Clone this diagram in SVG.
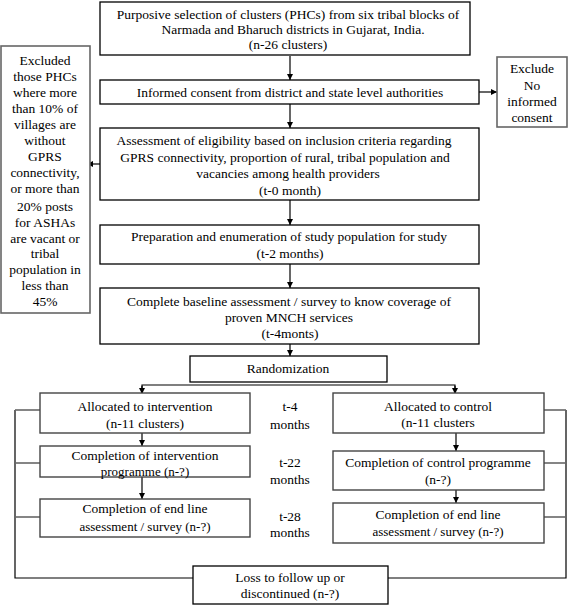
<svg xmlns="http://www.w3.org/2000/svg" width="568" height="608" viewBox="0 0 568 608" font-family="'Liberation Serif', 'Times New Roman', Times, 'DejaVu Serif', serif">
<defs>
<marker id="ah" viewBox="0 0 8 8" refX="8" refY="4" markerWidth="6" markerHeight="6" markerUnits="userSpaceOnUse" orient="auto">
<path d="M0,0 L8,4 L0,8 z" fill="#000"/>
</marker>
<style>
.b{fill:#fff;stroke:#000;stroke-width:1.3}
.g{fill:#fff;stroke:#666;stroke-width:1.6}
.m{fill:#fff;stroke:#444;stroke-width:1.4}
text{font-family:'Liberation Serif','Times New Roman',Times,'DejaVu Serif',serif;font-size:13.5px;fill:#000;text-anchor:middle}
.s{font-size:13px}
.c{fill:none;stroke:#000;stroke-width:1.2}
.cg{fill:none;stroke:#666;stroke-width:1.6}
</style>
</defs>
<rect width="568" height="608" fill="#fff"/>
<g id="connectors">
<line class="c" x1="290" y1="56" x2="290" y2="80" marker-end="url(#ah)"/>
<line class="c" x1="290" y1="104" x2="290" y2="128" marker-end="url(#ah)"/>
<line class="c" x1="479" y1="92" x2="497" y2="92" marker-end="url(#ah)"/>
<line class="c" x1="100" y1="164" x2="87" y2="164" marker-end="url(#ah)"/>
<line class="c" x1="290" y1="200" x2="290" y2="225" marker-end="url(#ah)"/>
<line class="c" x1="290" y1="264" x2="290" y2="288" marker-end="url(#ah)"/>
<line class="c" x1="290" y1="344" x2="290" y2="356" marker-end="url(#ah)"/>
<polyline class="c" points="142,394 142,385 455,385 455,394"/>
<line class="c" x1="142" y1="386" x2="142" y2="394" marker-end="url(#ah)"/>
<line class="c" x1="455" y1="386" x2="455" y2="394" marker-end="url(#ah)"/>
<line class="c" x1="142" y1="433" x2="142" y2="446" marker-end="url(#ah)"/>
<line class="c" x1="142" y1="477" x2="142" y2="499" marker-end="url(#ah)"/>
<line class="c" x1="456" y1="433" x2="456" y2="451" marker-end="url(#ah)"/>
<line class="c" x1="456" y1="490" x2="456" y2="503" marker-end="url(#ah)"/>
<polyline class="c" points="15,410 15,578 193,578"/>
<line class="cg" x1="15" y1="410" x2="40" y2="410"/>
<line class="cg" x1="15" y1="463" x2="40" y2="463"/>
<line class="cg" x1="15" y1="517" x2="40" y2="517"/>
<polyline class="c" points="388,578 566,578 566,410"/>
<line class="cg" x1="544" y1="410" x2="566" y2="410"/>
<line class="cg" x1="544" y1="463" x2="566" y2="463"/>
<line class="cg" x1="544" y1="517" x2="566" y2="517"/>
</g>
<g id="n1"><rect class="b" x="100" y="2" width="370" height="53"/>
<text x="288" y="19">Purposive selection of clusters (PHCs) from six tribal blocks of</text>
<text x="293" y="34">Narmada and Bharuch districts in Gujarat, India.</text>
<text x="288" y="49">(n-26 clusters)</text></g>
<g id="n2"><rect class="b" x="100" y="80" width="379" height="24"/>
<text x="290" y="97">Informed consent from district and state level authorities</text></g>
<g id="n3"><rect class="g" x="497" y="57" width="70" height="70"/>
<text x="532" y="73">Exclude</text><text x="532" y="90">No</text><text x="532" y="106">informed</text><text x="532" y="122">consent</text></g>
<g id="n4"><rect class="b" x="100" y="128" width="379" height="72"/>
<text x="284" y="145">Assessment of eligibility based on inclusion criteria regarding</text>
<text x="285" y="162">GPRS connectivity, proportion of rural, tribal population and</text>
<text x="288" y="178">vacancies among health providers</text>
<text x="290" y="195">(t-0 month)</text></g>
<g id="n5"><rect class="g" x="1" y="46" width="89" height="267"/>
<text x="45" y="65">Excluded</text><text x="45" y="81">those PHCs</text><text x="45" y="97">where more</text><text x="45" y="113">than 10% of</text><text x="45" y="129">villages are</text><text x="45" y="145">without</text><text x="45" y="161">GPRS</text><text x="45" y="177">connectivity,</text><text x="45" y="193">or more than</text><text x="45" y="211">20% posts</text><text x="45" y="227">for ASHAs</text><text x="45" y="243">are vacant or</text><text x="45" y="258">tribal</text><text x="45" y="274">population in</text><text x="45" y="290">less than</text><text x="45" y="306">45%</text></g>
<g id="n6"><rect class="b" x="100" y="225" width="379" height="39"/>
<text x="289" y="241">Preparation and enumeration of study population for study</text>
<text x="290" y="258">(t-2 months)</text></g>
<g id="n7"><rect class="b" x="100" y="288" width="379" height="56"/>
<text x="289" y="306">Complete baseline assessment / survey to know coverage of</text>
<text x="289" y="322">proven MNCH services</text>
<text x="290" y="338">(t-4monts)</text></g>
<g id="n8"><rect class="b" x="190" y="356" width="197" height="26"/>
<text x="288" y="373">Randomization</text></g>
<g id="n9"><rect class="m" x="40" y="393" width="210" height="40"/>
<text x="145" y="411">Allocated to intervention</text><text x="145" y="428">(n-11 clusters)</text></g>
<g id="n10"><rect class="m" x="40" y="446" width="210" height="31"/>
<text x="145" y="460">Completion of intervention</text><text x="145" y="476" class="s">programme (n-?)</text></g>
<g id="n11"><rect class="m" x="40" y="499" width="210" height="38"/>
<text x="145" y="513">Completion of end line</text><text x="145" y="531" class="s">assessment / survey (n-?)</text></g>
<g id="n12"><rect class="m" x="333" y="393" width="211" height="40"/>
<text x="438" y="411">Allocated to control</text><text x="438" y="427">(n-11 clusters</text></g>
<g id="n13"><rect class="m" x="333" y="451" width="211" height="39"/>
<text x="438" y="467">Completion of control programme</text><text x="438" y="484">(n-?)</text></g>
<g id="n14"><rect class="m" x="333" y="503" width="211" height="40"/>
<text x="438" y="519">Completion of end line</text><text x="438" y="536" class="s">assessment / survey (n-?)</text></g>
<g id="labels">
<text x="290" y="411">t-4</text><text x="290" y="429">months</text>
<text x="290" y="467">t-22</text><text x="290" y="484">months</text>
<text x="290" y="521">t-28</text><text x="290" y="537">months</text>
</g>
<g id="n15"><rect class="b" x="193" y="566" width="195" height="38"/>
<text x="290" y="582">Loss to follow up or</text><text x="290" y="598">discontinued (n-?)</text></g>
</svg>
